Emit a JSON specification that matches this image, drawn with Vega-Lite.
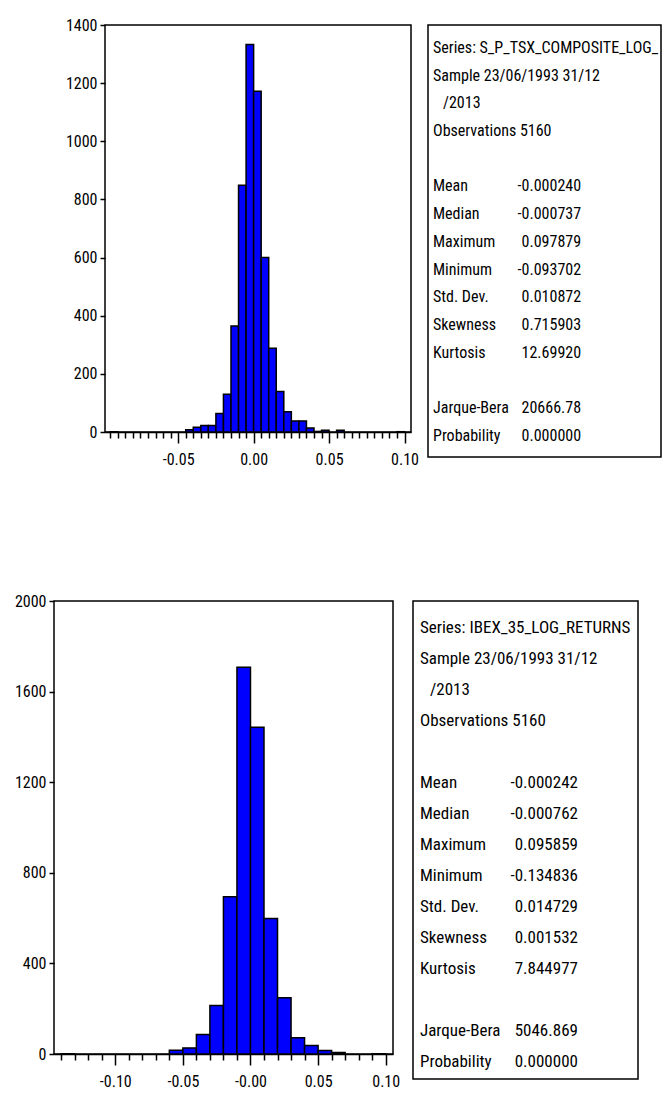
{
  "$schema": "https://vega.github.io/schema/vega-lite/v6.json",
  "padding": {"left": 0, "top": 16, "right": 0, "bottom": 0},
  "background": "white",
  "spacing": 124,
  "datasets": {
    "spacer": [{"k": 1}],
    "tsx_hist": [
      {"bin_start": -0.095, "bin_end": -0.09, "count": 1},
      {"bin_start": -0.045, "bin_end": -0.04, "count": 8},
      {"bin_start": -0.04, "bin_end": -0.035, "count": 16},
      {"bin_start": -0.035, "bin_end": -0.03, "count": 22},
      {"bin_start": -0.03, "bin_end": -0.025, "count": 22},
      {"bin_start": -0.025, "bin_end": -0.02, "count": 64},
      {"bin_start": -0.02, "bin_end": -0.015, "count": 130},
      {"bin_start": -0.015, "bin_end": -0.01, "count": 365},
      {"bin_start": -0.01, "bin_end": -0.005, "count": 849},
      {"bin_start": -0.005, "bin_end": 0.0, "count": 1333},
      {"bin_start": 0.0, "bin_end": 0.005, "count": 1172},
      {"bin_start": 0.005, "bin_end": 0.01, "count": 600},
      {"bin_start": 0.01, "bin_end": 0.015, "count": 288},
      {"bin_start": 0.015, "bin_end": 0.02, "count": 139},
      {"bin_start": 0.02, "bin_end": 0.025, "count": 70},
      {"bin_start": 0.025, "bin_end": 0.03, "count": 38},
      {"bin_start": 0.03, "bin_end": 0.035, "count": 38},
      {"bin_start": 0.035, "bin_end": 0.04, "count": 14},
      {"bin_start": 0.04, "bin_end": 0.045, "count": 2},
      {"bin_start": 0.045, "bin_end": 0.05, "count": 6},
      {"bin_start": 0.055, "bin_end": 0.06, "count": 6},
      {"bin_start": 0.095, "bin_end": 0.1, "count": 1}
    ],
    "ibex_hist": [
      {"bin_start": -0.14, "bin_end": -0.13, "count": 1},
      {"bin_start": -0.06, "bin_end": -0.05, "count": 17},
      {"bin_start": -0.05, "bin_end": -0.04, "count": 27},
      {"bin_start": -0.04, "bin_end": -0.03, "count": 86},
      {"bin_start": -0.03, "bin_end": -0.02, "count": 214},
      {"bin_start": -0.02, "bin_end": -0.01, "count": 694},
      {"bin_start": -0.01, "bin_end": 0.0, "count": 1708},
      {"bin_start": 0.0, "bin_end": 0.01, "count": 1443},
      {"bin_start": 0.01, "bin_end": 0.02, "count": 598},
      {"bin_start": 0.02, "bin_end": 0.03, "count": 248},
      {"bin_start": 0.03, "bin_end": 0.04, "count": 72},
      {"bin_start": 0.04, "bin_end": 0.05, "count": 37},
      {"bin_start": 0.05, "bin_end": 0.06, "count": 15},
      {"bin_start": 0.06, "bin_end": 0.07, "count": 7},
      {"bin_start": 0.09, "bin_end": 0.1, "count": 1}
    ],
    "tsx_stats": [
      {"line": 0, "label": "Series: S_P_TSX_COMPOSITE_LOG_", "value": ""},
      {"line": 1, "label": "Sample 23/06/1993 31/12", "value": ""},
      {"line": 2, "label": "/2013", "value": ""},
      {"line": 3, "label": "Observations 5160", "value": ""},
      {"line": 5, "label": "Mean", "value": "-0.000240"},
      {"line": 6, "label": "Median", "value": "-0.000737"},
      {"line": 7, "label": "Maximum", "value": "0.097879"},
      {"line": 8, "label": "Minimum", "value": "-0.093702"},
      {"line": 9, "label": "Std. Dev.", "value": "0.010872"},
      {"line": 10, "label": "Skewness", "value": "0.715903"},
      {"line": 11, "label": "Kurtosis", "value": "12.69920"},
      {"line": 13, "label": "Jarque-Bera", "value": "20666.78"},
      {"line": 14, "label": "Probability", "value": "0.000000"}
    ],
    "ibex_stats": [
      {"line": 0, "label": "Series: IBEX_35_LOG_RETURNS", "value": ""},
      {"line": 1, "label": "Sample 23/06/1993 31/12", "value": ""},
      {"line": 2, "label": "/2013", "value": ""},
      {"line": 3, "label": "Observations 5160", "value": ""},
      {"line": 5, "label": "Mean", "value": "-0.000242"},
      {"line": 6, "label": "Median", "value": "-0.000762"},
      {"line": 7, "label": "Maximum", "value": "0.095859"},
      {"line": 8, "label": "Minimum", "value": "-0.134836"},
      {"line": 9, "label": "Std. Dev.", "value": "0.014729"},
      {"line": 10, "label": "Skewness", "value": "0.001532"},
      {"line": 11, "label": "Kurtosis", "value": "7.844977"},
      {"line": 13, "label": "Jarque-Bera", "value": "5046.869"},
      {"line": 14, "label": "Probability", "value": "0.000000"}
    ]
  },
  "vconcat": [
    {
      "hconcat": [
        {
          "width": 34,
          "height": 10,
          "view": {"stroke": null},
          "data": {"name": "spacer"},
          "mark": {"type": "text", "text": ""},
          "encoding": {}
        },
        {
          "width": 306,
          "height": 407,
          "data": {"name": "tsx_hist"},
          "mark": {"type": "bar", "fill": "#0000FF", "stroke": "black", "strokeWidth": 1.5},
          "encoding": {
            "x": {
              "field": "bin_start", "type": "quantitative",
              "scale": {"domain": [-0.0985, 0.1043], "nice": false, "zero": false},
              "axis": {
                "title": null, "domain": true,
                "values": [-0.095,-0.09,-0.085,-0.08,-0.075,-0.07,-0.065,-0.06,-0.055,-0.05,-0.045,-0.04,-0.035,-0.03,-0.025,-0.02,-0.015,-0.01,-0.005,0,0.005,0.01,0.015,0.02,0.025,0.03,0.035,0.04,0.045,0.05,0.055,0.06,0.065,0.07,0.075,0.08,0.085,0.09,0.095,0.1],
                "labelExpr": "abs(datum.value*20 - round(datum.value*20)) < 0.001 ? (datum.value < 0 ? '-' : '') + format(abs(datum.value), '.2f') : ''",
                "tickSize": {"condition": {"test": "abs(datum.value*20 - round(datum.value*20)) < 0.001", "value": 11}, "value": 6},
                "labelPadding": 8,
                "labelOverlap": false,
                "labelFlush": false
              }
            },
            "x2": {"field": "bin_end"},
            "y": {
              "field": "count", "type": "quantitative",
              "scale": {"domain": [0, 1400], "nice": false},
              "axis": {"title": null, "format": "d", "values": [0,200,400,600,800,1000,1200,1400], "tickSize": 5, "labelPadding": 3, "domain": false, "labelOverlap": false, "labelFlush": false}
            },
            "y2": {"datum": 0}
          }
        },
        {
          "width": 233,
          "height": 432,
          "data": {"name": "tsx_stats"},
          "encoding": {
            "y": {"field": "line", "type": "quantitative", "scale": {"domain": [-0.83, 14.77], "reverse": true, "nice": false, "zero": false}, "axis": null}
          },
          "layer": [
            {
              "transform": [{"filter": "datum.line != 2"}],
              "mark": {"type": "text", "align": "left", "baseline": "middle", "fontSize": 16},
              "encoding": {
                "x": {"datum": 0.0215, "type": "quantitative", "scale": {"domain": [0, 1], "nice": false, "zero": false}, "axis": null},
                "text": {"field": "label"}
              }
            },
            {
              "transform": [{"filter": "datum.line == 2"}],
              "mark": {"type": "text", "align": "left", "baseline": "middle", "fontSize": 16, "dx": 10},
              "encoding": {
                "x": {"datum": 0.0215, "type": "quantitative"},
                "text": {"field": "label"}
              }
            },
            {
              "mark": {"type": "text", "align": "right", "baseline": "middle", "fontSize": 16},
              "encoding": {
                "x": {"datum": 0.657, "type": "quantitative"},
                "text": {"field": "value"}
              }
            }
          ]
        }
      ],
      "spacing": 17,
      "bounds": "flush"
    },
    {
      "hconcat": [
        {
          "width": 339,
          "height": 453,
          "data": {"name": "ibex_hist"},
          "mark": {"type": "bar", "fill": "#0000FF", "stroke": "black", "strokeWidth": 1.5},
          "encoding": {
            "x": {
              "field": "bin_start", "type": "quantitative",
              "scale": {"domain": [-0.1453, 0.1054], "nice": false, "zero": false},
              "axis": {
                "title": null,
                "values": [-0.14,-0.13,-0.12,-0.11,-0.1,-0.09,-0.08,-0.07,-0.06,-0.05,-0.04,-0.03,-0.02,-0.01,0,0.01,0.02,0.03,0.04,0.05,0.06,0.07,0.08,0.09,0.1],
                "labelExpr": "abs(datum.value*20 - round(datum.value*20)) < 0.001 ? (datum.value == 0 ? '-0.00' : (datum.value < 0 ? '-' : '') + format(abs(datum.value), '.2f')) : ''",
                "tickSize": {"condition": {"test": "abs(datum.value*20 - round(datum.value*20)) < 0.001", "value": 11}, "value": 6},
                "labelPadding": 8,
                "labelOverlap": false,
                "labelFlush": false
              }
            },
            "x2": {"field": "bin_end"},
            "y": {
              "field": "count", "type": "quantitative",
              "scale": {"domain": [0, 2000], "nice": false},
              "axis": {"title": null, "format": "d", "values": [0,400,800,1200,1600,2000], "tickSize": 5, "labelPadding": 3, "minExtent": 53, "domain": false, "labelOverlap": false, "labelFlush": false}
            },
            "y2": {"datum": 0}
          }
        },
        {
          "width": 225,
          "height": 478,
          "data": {"name": "ibex_stats"},
          "encoding": {
            "y": {"field": "line", "type": "quantitative", "scale": {"domain": [-0.871, 14.55], "reverse": true, "nice": false, "zero": false}, "axis": null}
          },
          "layer": [
            {
              "transform": [{"filter": "datum.line != 2"}],
              "mark": {"type": "text", "align": "left", "baseline": "middle", "fontSize": 17},
              "encoding": {
                "x": {"datum": 0.031, "type": "quantitative", "scale": {"domain": [0, 1], "nice": false, "zero": false}, "axis": null},
                "text": {"field": "label"}
              }
            },
            {
              "transform": [{"filter": "datum.line == 2"}],
              "mark": {"type": "text", "align": "left", "baseline": "middle", "fontSize": 17, "dx": 10},
              "encoding": {
                "x": {"datum": 0.031, "type": "quantitative"},
                "text": {"field": "label"}
              }
            },
            {
              "mark": {"type": "text", "align": "right", "baseline": "middle", "fontSize": 17},
              "encoding": {
                "x": {"datum": 0.733, "type": "quantitative"},
                "text": {"field": "value"}
              }
            }
          ]
        }
      ],
      "spacing": 20,
      "bounds": "flush"
    }
  ],
  "config": {
    "font": "'Roboto Condensed', 'Liberation Sans', sans-serif",
    "view": {"stroke": "black", "strokeWidth": 1.5},
    "text": {"color": "black", "font": "'Roboto Condensed', 'Liberation Sans', sans-serif"},
    "axis": {
      "labelFont": "'Roboto Condensed', 'Liberation Sans', sans-serif",
      "labelFontSize": 16,
      "labelColor": "black",
      "tickColor": "black",
      "tickWidth": 1.5,
      "domainColor": "black",
      "domainWidth": 1.5,
      "grid": false
    }
  }
}
